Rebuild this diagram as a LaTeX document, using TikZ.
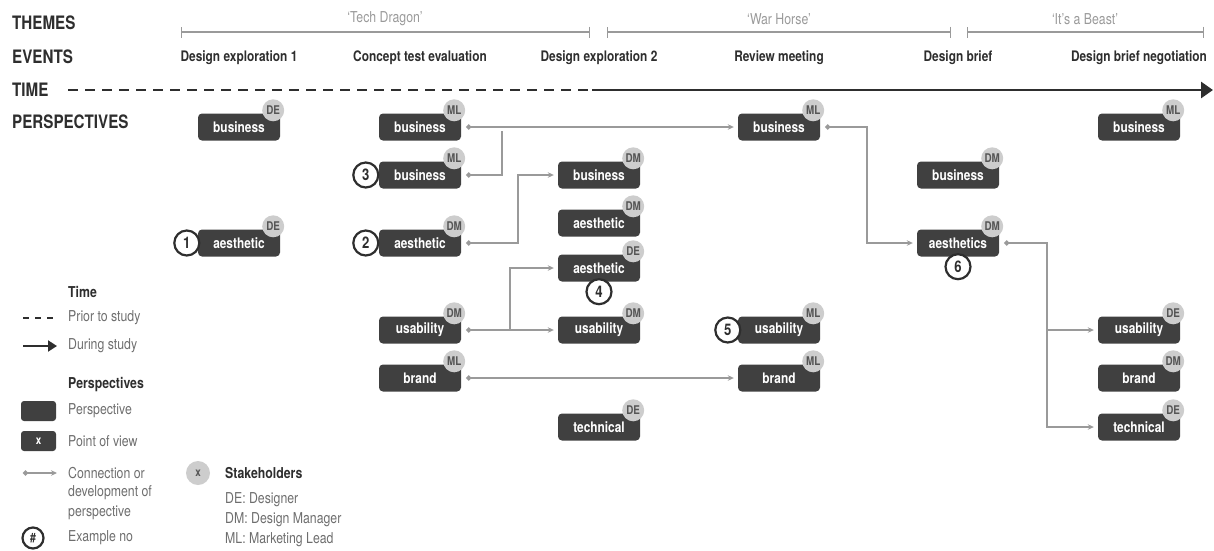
\documentclass[tikz,border=0pt]{standalone}
\usepackage{fontspec}
\setmainfont{TeX Gyre Heros}[FakeStretch=0.82]
\usetikzlibrary{arrows.meta}
\definecolor{boxgray}{HTML}{404040}
\definecolor{badgegray}{HTML}{CDCDCD}
\definecolor{badgetext}{HTML}{555555}
\definecolor{linkgray}{HTML}{9A9A9A}
\definecolor{themegray}{HTML}{9A9A9A}
\definecolor{notegray}{HTML}{6E6E6E}
\definecolor{inkdark}{HTML}{2E2E2E}
\newcommand{\fsize}[1]{\fontsize{#1}{#1}\selectfont}
% perspective box with its stakeholder badge
\newcommand{\persp}[5]{%
 \node[perspbox] (#1) at (#2,#3) {#4};
 \node[stakebadge] (#1-who) at ([xshift=-7pt,yshift=3pt]#1.north east) {#5};}

\begin{document}
\begin{tikzpicture}[x=1pt,y=-1pt,
 perspbox/.style={fill=boxgray,rounded corners=4pt,minimum width=82pt,minimum height=27pt,inner sep=0pt,text=white,font=\bfseries\fsize{14.5}},
 stakebadge/.style={circle,fill=badgegray,minimum size=22pt,inner sep=0pt,text=badgetext,font=\bfseries\fsize{12}},
 exno/.style={circle,draw=inkdark,line width=2.2pt,fill=white,minimum size=25pt,inner sep=0pt,text=inkdark,font=\bfseries\fsize{16}},
 link/.style={draw=linkgray,line width=1.6pt,{Circle[length=5pt]}-{Stealth[length=6pt,width=5.5pt]},shorten <=5pt,shorten >=4pt},
 linkstub/.style={link,{Circle[length=5pt]}-},
 linkbranch/.style={link,-{Stealth[length=6pt,width=5.5pt]},shorten <=0pt},
 heading/.style={anchor=west,inner sep=0pt,text=inkdark,font=\bfseries\fsize{18.5}},
 event/.style={inner sep=0pt,text=inkdark,font=\bfseries\fsize{14.5}},
 theme/.style={inner sep=0pt,text=themegray,font=\fsize{15}},
 themebar/.style={draw=themegray,line width=1.4pt,{Bar[width=11pt]}-{Bar[width=11pt]}},
 timeprior/.style={draw=inkdark,line width=2.4pt,dash pattern=on 10pt off 7pt},
 timenow/.style={draw=inkdark,line width=2.8pt,-{Triangle[length=12pt,width=16pt]}},
 legtitle/.style={anchor=west,inner sep=0pt,text=inkdark,font=\bfseries\fsize{15}},
 legtext/.style={anchor=west,inner sep=0pt,text=notegray,font=\fsize{15}}]
\useasboundingbox (0,0) rectangle (1214,550);

% row labels
\node[heading] (lab-themes) at (12,23) {THEMES};
\node[heading] (lab-events) at (12,57) {EVENTS};
\node[heading] (lab-time) at (12,90) {TIME};
\node[heading] (lab-persp) at (12,122) {PERSPECTIVES};

% themes
\coordinate (th1a) at (181,32); \coordinate (th1b) at (590,32);
\coordinate (th2a) at (607,32); \coordinate (th2b) at (951,32);
\coordinate (th3a) at (967,32); \coordinate (th3b) at (1204,32);
\draw[themebar] (th1a) -- (th1b);
\draw[themebar] (th2a) -- (th2b);
\draw[themebar] (th3a) -- (th3b);
\node[theme] (th-tech) at (385,19) {`Tech Dragon'};
\node[theme] (th-war) at (779,19) {`War Horse'};
\node[theme] (th-beast) at (1085,19) {`It's a Beast'};

% events
\node[event] (ev1) at (239,58) {Design exploration 1};
\node[event] (ev2) at (420,58) {Concept test evaluation};
\node[event] (ev3) at (599,58) {Design exploration 2};
\node[event] (ev4) at (779,58) {Review meeting};
\node[event] (ev5) at (958,58) {Design brief};
\node[event] (ev6) at (1139,58) {Design brief negotiation};

% time line
\coordinate (t0) at (68,90); \coordinate (tm) at (592,90); \coordinate (t1) at (1213,90);
\draw[timeprior] (t0) -- (tm);
\draw[timenow] (tm) -- (t1);

% perspectives
\persp{bus1}{239}{127}{business}{DE}
\persp{aes1}{239}{243}{aesthetic}{DE}
\persp{bus2a}{420}{127}{business}{ML}
\persp{bus2b}{420}{175}{business}{ML}
\persp{aes2}{420}{243}{aesthetic}{DM}
\persp{usa2}{420}{330}{usability}{DM}
\persp{bra2}{420}{378}{brand}{ML}
\persp{bus3}{599}{175}{business}{DM}
\persp{aes3a}{599}{223}{aesthetic}{DM}
\persp{aes3b}{599}{268}{aesthetic}{DE}
\persp{usa3}{599}{330}{usability}{DM}
\persp{tec3}{599}{427}{technical}{DE}
\persp{bus4}{779}{127}{business}{ML}
\persp{usa4}{779}{330}{usability}{ML}
\persp{bra4}{779}{378}{brand}{ML}
\persp{bus5}{958}{175}{business}{DM}
\persp{aes5}{958}{243}{aesthetics}{DM}
\persp{bus6}{1139}{127}{business}{ML}
\persp{usa6}{1139}{330}{usability}{DE}
\persp{bra6}{1139}{378}{brand}{DM}
\persp{tec6}{1139}{427}{technical}{DE}

% example numbers
\node[exno] (ex1) at ([xshift=-11pt]aes1.west) {1};
\node[exno] (ex2) at ([xshift=-13pt]aes2.west) {2};
\node[exno] (ex3) at ([xshift=-13pt]bus2b.west) {3};
\node[exno] (ex4) at ([yshift=-10pt]aes3b.south) {4};
\node[exno] (ex5) at ([xshift=-10pt]usa4.west) {5};
\node[exno] (ex6) at ([yshift=-10pt]aes5.south) {6};

% connections
\coordinate (j-bus) at (502,127);
\coordinate (j-usa) at (510,330);
\coordinate (j-aes) at (1048,330);
\draw[link] (bus2a.east) -- (bus4.west);
\draw[linkstub] (bus2b.east) -| (j-bus);
\draw[link] (aes2.east) -- ++(57,0) |- (bus3.west);
\draw[link] (usa2.east) -- (usa3.west);
\draw[linkbranch] (j-usa) |- (aes3b.west);
\draw[link] (bra2.east) -- (bra4.west);
\draw[link] (bus4.east) -- ++(47,0) |- (aes5.west);
\draw[link] (aes5.east) -- ++(48,0) |- (tec6.west);
\draw[linkbranch] (j-aes) -- (usa6.west);

% legend
\node[legtitle] (lg-time) at (68,292) {Time};
\coordinate (lg-d0) at (23,318); \coordinate (lg-d1) at (56,318);
\draw[timeprior,line width=2pt,dash pattern=on 6pt off 6pt] (lg-d0) -- (lg-d1);
\node[legtext] (lg-prior) at (68,318) {Prior to study};
\coordinate (lg-a0) at (23,346); \coordinate (lg-a1) at (57,346);
\draw[timenow,line width=2pt,-{Triangle[length=9pt,width=11pt]}] (lg-a0) -- (lg-a1);
\node[legtext] (lg-during) at (68,346) {During study};
\node[legtitle] (lg-persp) at (68,385) {Perspectives};
\node[perspbox,minimum width=35pt,minimum height=20pt,rounded corners=3pt] (lg-box) at (38.5,411) {};
\node[legtext] (lg-boxtext) at (68,411) {Perspective};
\node[perspbox,minimum width=35pt,minimum height=20pt,rounded corners=3pt,font=\bfseries\fsize{12}] (lg-pov) at (38.5,441) {x};
\node[legtext] (lg-povtext) at (68,441) {Point of view};
\coordinate (lg-c0) at (23,473); \coordinate (lg-c1) at (57,473);
\draw[link,shorten <=0pt,shorten >=0pt] (lg-c0) -- (lg-c1);
\node[legtext] (lg-conn1) at (68,473) {Connection or};
\node[legtext] (lg-conn2) at (68,493) {development of};
\node[legtext] (lg-conn3) at (68,513) {perspective};
\node[exno,minimum size=21pt,font=\bfseries\fsize{13}] (lg-ex) at (33,538) {\#};
\node[legtext] (lg-extext) at (68,538) {Example no};
\node[stakebadge,minimum size=24pt] (lg-who) at (198,473) {x};
\node[legtitle] (lg-stake) at (225,473) {Stakeholders};
\node[legtext] (lg-de) at (225,500) {DE: Designer};
\node[legtext] (lg-dm) at (225,520) {DM: Design Manager};
\node[legtext] (lg-ml) at (225,540) {ML: Marketing Lead};
\end{tikzpicture}
\end{document}
